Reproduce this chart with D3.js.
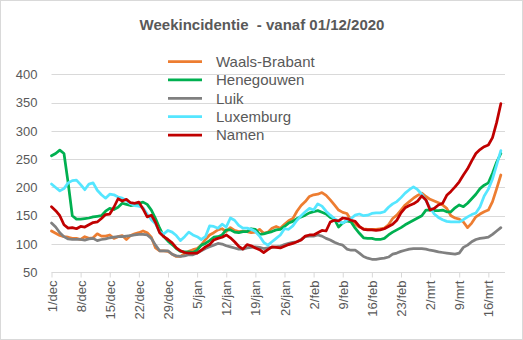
<!DOCTYPE html>
<html><head><meta charset="utf-8">
<script src="https://cdn.jsdelivr.net/npm/d3@7/dist/d3.min.js"></script>
<style>body{margin:0;background:#fff}text{font-family:"Liberation Sans",Arial,sans-serif;fill:#595959}</style>
</head><body><svg id="c" width="523" height="340"></svg>
<script>
const title = "Weekincidentie  - vanaf 01/12/2020";
const seriesNames = ["Waals-Brabant","Henegouwen","Luik","Luxemburg","Namen"];
const seriesColors = ["#ED7D31","#00B050","#808080","#55E6FF","#C00000"];
const xTickLabels = ["1/dec","8/dec","15/dec","22/dec","29/dec","5/jan","12/jan","19/jan","26/jan","2/feb","9/feb","16/feb","23/feb","2/mrt","9/mrt","16/mrt"];
const yTicks = [50,100,150,200,250,300,350,400];
const waalsBrabant = [
123,119,115,113,112,110,110,108,113,110,
111,118,114,114,116,110,113,115,108,115,
118,120,123,120,112,93,88,88,87,82,
78,78,83,87,90,92,98,108,116,120,
125,127,122,129,124,122,123,122,120,121,
126,119,121,128,131,128,135,141,145,158,
168,175,184,187,188,191,186,178,169,160,
156,154,142,135,130,127,126,126,126,127,
128,134,145,151,160,169,175,181,186,190,
184,179,176,173,169,163,150,146,144,139,
129,137,148,153,157,160,175,198,222];
const henegouwen = [
256,260,266,260,208,150,144,144,145,146,
148,149,150,158,163,161,165,172,170,168,
169,172,174,170,160,145,128,113,105,99,
92,87,86,86,85,89,98,101,106,112,
113,116,125,125,121,120,122,122,127,126,
117,118,120,122,125,126,131,137,140,145,
148,151,155,157,159,156,153,147,144,130,
137,141,139,128,119,111,110,110,108,108,
110,116,121,125,129,134,138,142,146,150,
160,160,159,159,160,157,157,164,169,166,
172,180,188,198,204,208,225,245,260];
const luik = [
137,130,120,113,109,108,108,108,107,109,
110,106,108,109,111,112,113,113,114,115,
116,117,117,116,110,98,88,88,88,82,
79,78,79,81,81,84,88,92,95,98,
101,100,97,95,93,91,91,93,94,95,
94,92,93,94,95,96,99,101,103,104,
108,113,114,114,116,114,110,107,103,100,
98,91,89,89,84,78,75,73,73,74,
75,77,82,84,87,89,91,92,92,92,
91,89,88,86,85,84,83,82,84,94,
98,104,108,110,111,112,117,123,129];
const luxemburg = [
206,200,194,198,208,212,213,205,196,206,
208,195,187,181,188,187,183,181,177,171,
168,167,164,153,143,136,121,118,124,121,
115,106,113,121,116,113,108,113,132,131,
128,135,130,146,142,133,128,128,126,122,
114,103,98,104,110,116,127,126,132,142,
150,157,163,160,171,167,158,151,145,140,
137,142,145,151,153,150,151,154,155,155,
157,165,171,175,182,190,196,201,196,188,
177,164,153,147,143,140,139,139,139,143,
148,152,155,166,185,197,215,240,265];
const namen = [
166,159,150,134,128,129,127,131,130,134,
138,139,145,152,153,165,180,176,179,173,
172,174,162,148,151,138,120,113,108,102,
93,88,85,84,84,84,89,95,99,107,
110,112,116,111,104,96,91,99,97,93,
90,85,90,95,94,93,96,99,101,104,
107,114,116,116,120,124,123,139,142,141,
146,145,142,140,131,126,125,125,124,125,
127,131,135,142,155,164,168,171,176,185,
178,160,163,169,172,186,193,201,210,222,
233,247,260,267,272,275,288,315,348];
const seriesValues = [waalsBrabant, henegouwen, luik, luxemburg, namen];

const svg = d3.select("#c");
const W = 523, H = 340;
svg.append("rect").attr("x",0.5).attr("y",0.5).attr("width",W-1).attr("height",H-1)
  .attr("fill","#fff").attr("stroke","#d9d9d9");

const plotL = 51.5, plotR = 505, plotT = 74.3, plotB = 272.3;
const x = d3.scaleLinear().domain([0, 109]).range([plotL, plotR]);
const y = d3.scaleLinear().domain([50, 400]).range([plotB, plotT]);

// gridlines
svg.append("g").selectAll("line").data(yTicks.slice(1)).join("line")
  .attr("x1", plotL).attr("x2", plotR)
  .attr("y1", d => Math.round(y(d)) + 0.5).attr("y2", d => Math.round(y(d)) + 0.5)
  .attr("stroke", "#d9d9d9").attr("stroke-width", 1);

// y axis labels
const yAxis = d3.axisLeft(y).tickValues(yTicks).tickSize(0).tickPadding(14);
const gy = svg.append("g").attr("transform", `translate(${plotL},0)`).call(yAxis);
gy.select(".domain").remove();
gy.selectAll("text").style("font-size","13px").attr("fill","#595959")
  .attr("font-family", null);

// x axis
const tickIdx = xTickLabels.map((_, i) => i * 7);
const xAxis = d3.axisBottom(x).tickValues(tickIdx).tickSize(5)
  .tickFormat((d, i) => xTickLabels[i]).tickSizeOuter(0);
const gx = svg.append("g").attr("transform", `translate(0,${Math.round(plotB)+0.5})`).call(xAxis);
gx.select(".domain").attr("stroke","#d9d9d9").attr("d", `M${plotL},0H${plotR}`);
gx.selectAll(".tick line").attr("stroke","#d9d9d9");
gx.selectAll("text").style("font-size","13px").attr("fill","#595959")
  .attr("font-family", null)
  .attr("transform","rotate(-90)")
  .attr("text-anchor","end")
  .attr("x",-8).attr("y",0).attr("dy","0.35em");

// lines
const line = d3.line().x((d, i) => x(i)).y(d => y(d));
svg.append("g").selectAll("path").data(seriesValues).join("path")
  .attr("d", line).attr("fill","none")
  .attr("stroke", (d, i) => seriesColors[i]).attr("stroke-width", 2.75)
  .attr("stroke-linejoin","round").attr("stroke-linecap","round");

// title
svg.append("text").attr("x", 262).attr("y", 30).attr("text-anchor","middle")
  .style("font-size","15px").style("font-weight","bold").style("white-space","pre")
  .text(title);

// legend
const lg = svg.append("g");
seriesNames.forEach((name, i) => {
  const ly = 61.5 + i * 18.4;
  lg.append("line").attr("x1",168).attr("x2",202).attr("y1",ly).attr("y2",ly)
    .attr("stroke", seriesColors[i]).attr("stroke-width", 2.75);
  lg.append("text").attr("x",216).attr("y",ly).attr("dy","0.35em")
    .style("font-size","15px").text(name);
});
</script></body></html>
